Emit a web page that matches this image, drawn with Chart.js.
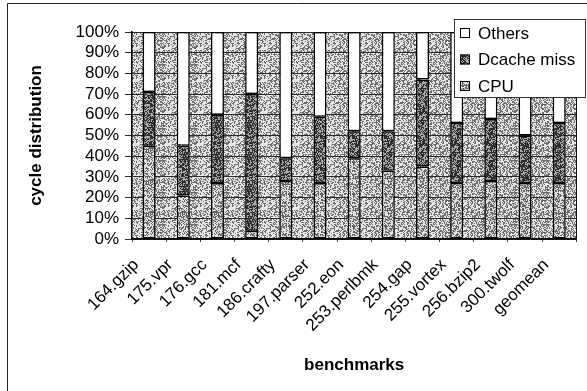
<!DOCTYPE html>
<html>
<head>
<meta charset="utf-8">
<script src="https://cdn.jsdelivr.net/npm/chart.js@4.4.1/dist/chart.umd.min.js"></script>
<style>
  html, body { margin: 0; padding: 0; background: #fff; }
  canvas { display: block; }
</style>
</head>
<body>
<canvas id="c" width="587" height="391"></canvas>
<script>
// Benchmarks and the share of cycles spent in each component (percent).
const benchmarks = ['164.gzip', '175.vpr', '176.gcc', '181.mcf', '186.crafty', '197.parser',
  '252.eon', '253.perlbmk', '254.gap', '255.vortex', '256.bzip2', '300.twolf', 'geomean'];
const cpu        = [45, 21, 27,  4, 28, 27, 39, 33, 35, 27, 28, 27, 27];
const dcacheMiss = [26, 24, 33, 66, 11, 32, 13, 19, 42, 29, 30, 23, 29];
const others     = [29, 55, 40, 30, 61, 41, 48, 48, 23, 44, 42, 50, 44];

const FONT = "'Liberation Sans', Arial, sans-serif";
const canvas = document.getElementById('c');
const ctx = canvas.getContext('2d');

// Deterministic stipple texture, like a printed grey fill.
function stipple(dark, light, density, seed) {
  const size = 32;
  const t = document.createElement('canvas');
  t.width = t.height = size;
  const g = t.getContext('2d');
  const img = g.createImageData(size, size);
  for (let y = 0; y < size; y++) {
    for (let x = 0; x < size; x++) {
      const s = Math.sin((x + seed) * 12.9898 + (y + seed * 3.1) * 78.233) * 43758.5453;
      const h = s - Math.floor(s);
      const v = h < density ? dark : light;
      const i = (y * size + x) * 4;
      img.data[i] = img.data[i + 1] = img.data[i + 2] = v;
      img.data[i + 3] = 255;
    }
  }
  g.putImageData(img, 0, 0);
  return ctx.createPattern(t, 'repeat');
}

const plotFill   = stipple(110, 230, 0.45, 1);
const cpuFill    = stipple(100, 225, 0.48, 7);
const dcacheFill = stipple(45, 170, 0.58, 13);

// Grey plot area behind the bars, and frame of the whole figure.
const backdrop = {
  id: 'backdrop',
  beforeDraw(chart) {
    const { ctx: c, chartArea: a } = chart;
    c.save();
    c.fillStyle = '#fff';
    c.fillRect(0, 0, chart.width, chart.height);
    c.fillStyle = plotFill;
    c.fillRect(a.left, a.top, a.right - a.left, a.bottom - a.top);
    c.restore();
  },
  afterDatasetsDraw(chart) {
    const { ctx: c, chartArea: a } = chart;
    c.save();
    c.strokeStyle = '#111';
    c.lineWidth = 1;
    c.beginPath();
    c.moveTo(Math.round(a.right) + 0.5, a.top);
    c.lineTo(Math.round(a.right) + 0.5, a.bottom);
    c.stroke();
    // outer figure frame
    c.strokeStyle = '#222';
    c.beginPath();
    c.moveTo(7.5, chart.height);
    c.lineTo(7.5, 3.5);
    c.lineTo(chart.width, 3.5);
    c.stroke();
    c.restore();
  }
};

// Boxed legend in the upper right, series listed top to bottom.
const boxLegend = {
  id: 'boxLegend',
  afterDraw(chart) {
    const c = chart.ctx;
    const x = 454, y = 19, w = 131, h = 78;
    c.save();
    c.fillStyle = '#fff';
    c.fillRect(x, y, w, h);
    c.strokeStyle = '#333';
    c.lineWidth = 1;
    c.strokeRect(x + 0.5, y + 0.5, w, h);
    const items = chart.data.datasets.slice().reverse();
    c.font = '17px ' + FONT;
    c.textBaseline = 'middle';
    items.forEach((ds, i) => {
      const cy = y + 14 + i * 26.5;
      c.fillStyle = ds.backgroundColor;
      c.fillRect(460, cy - 5, 10, 10);
      c.strokeStyle = '#000';
      c.lineWidth = 1;
      c.strokeRect(460.5, cy - 4.5, 9, 9);
      c.fillStyle = '#000';
      c.fillText(ds.label, 478, cy + 1);
    });
    c.restore();
  }
};

new Chart(canvas, {
  type: 'bar',
  data: {
    labels: benchmarks,
    datasets: [
      { label: 'CPU', data: cpu, backgroundColor: cpuFill },
      { label: 'Dcache miss', data: dcacheMiss, backgroundColor: dcacheFill },
      { label: 'Others', data: others, backgroundColor: '#ffffff' }
    ]
  },
  options: {
    responsive: false,
    animation: false,
    devicePixelRatio: 1,
    layout: { padding: { top: 32, right: 9, left: 0, bottom: 0 } },
    datasets: {
      bar: {
        barPercentage: 0.38,
        categoryPercentage: 1.0,
        borderColor: '#000',
        borderWidth: 1.5,
        borderSkipped: false
      }
    },
    plugins: {
      legend: { display: false },
      tooltip: { enabled: false }
    },
    scales: {
      x: {
        stacked: true,
        afterFit(scale) { scale.height = 152; },
        grid: { display: true, drawOnChartArea: false, drawTicks: true, tickLength: 3, color: '#444' },
        border: { display: true, color: '#000', width: 1.5 },
        ticks: {
          color: '#000',
          font: { family: FONT, size: 17 },
          minRotation: 45,
          maxRotation: 45,
          autoSkip: false,
          labelOffset: -13,
          padding: 13
        },
        title: {
          display: true,
          text: 'benchmarks',
          color: '#000',
          font: { family: FONT, size: 17, weight: 'bold' },
          padding: { top: 0, bottom: 15 }
        }
      },
      y: {
        stacked: true,
        min: 0,
        max: 100,
        afterFit(scale) { scale.width = 132; },
        grid: { color: '#2a2a2a', lineWidth: 1, tickLength: 7 },
        border: { display: true, color: '#000', width: 1.5 },
        ticks: {
          stepSize: 10,
          autoSkip: false,
          color: '#000',
          font: { family: FONT, size: 17 },
          padding: 6,
          callback: v => v + '%'
        },
        title: {
          display: true,
          text: 'cycle distribution',
          color: '#000',
          font: { family: FONT, size: 17, weight: 'bold' },
          padding: { top: 26, bottom: 0 }
        }
      }
    }
  },
  plugins: [backdrop, boxLegend]
});
</script>
</body>
</html>
